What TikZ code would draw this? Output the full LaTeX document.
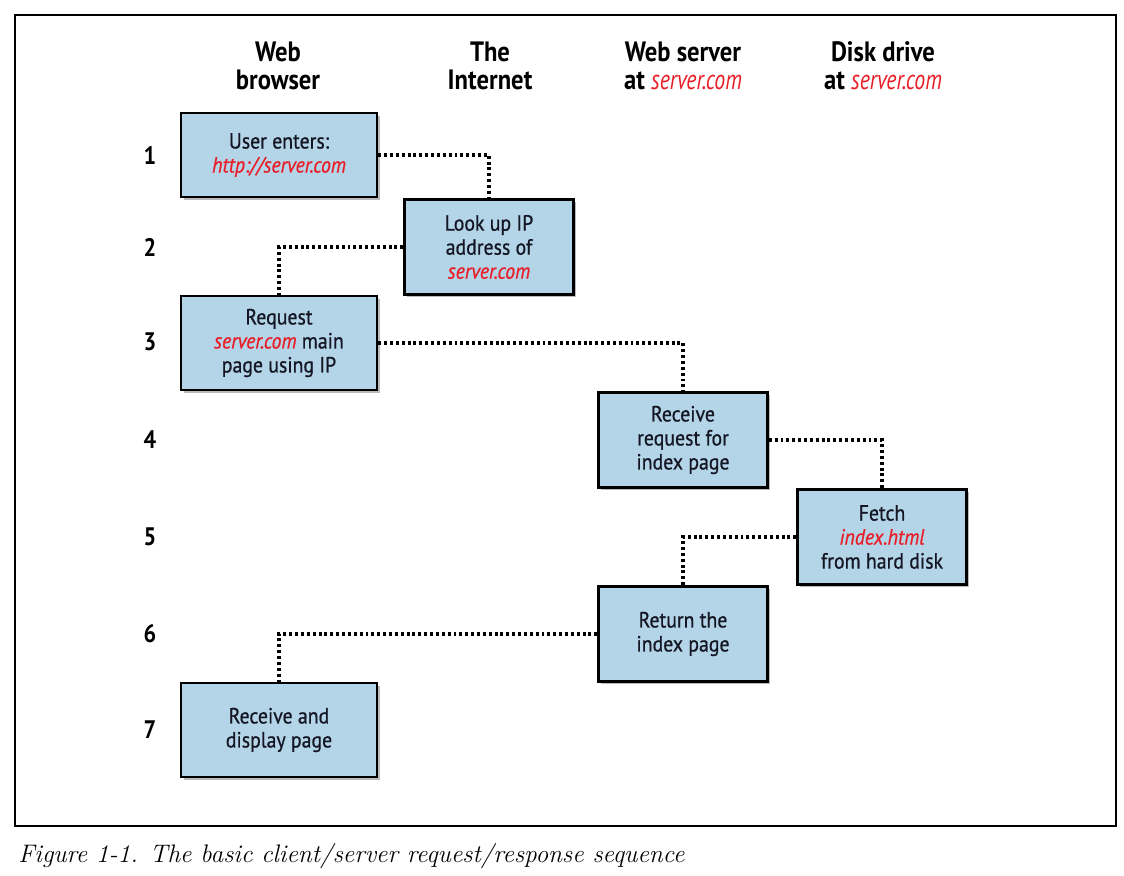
\documentclass[tikz,border=0pt]{standalone}
\usepackage{fontspec}
\setsansfont{PT Sans}[FakeStretch=0.88]
\newfontfamily\boxfont{PT Sans}[FakeStretch=0.9,FakeBold=0.7]
\newfontfamily\hredfont{PT Sans}[FakeStretch=0.78]
\usetikzlibrary{shadows}
\definecolor{boxblue}{RGB}{180,212,232}
\definecolor{urlred}{RGB}{232,30,40}
\definecolor{ink}{RGB}{20,22,35}
\newcommand\rd[1]{{\color{urlred}\itshape #1}}
\newcommand\hrd[1]{{\hredfont\mdseries\color{urlred}\itshape #1}}
\begin{document}
\begin{tikzpicture}[x=0.75pt,y=-0.75pt,
  box/.style={draw=black,line width=1.9pt,fill=boxblue,inner sep=0pt,text=ink,
    minimum width=169*0.75pt,minimum height=95*0.75pt,align=center,
    font=\boxfont\fontsize{16.5}{18}\selectfont,
    drop shadow={shadow xshift=2.2pt,shadow yshift=-2.2pt,fill=black!45,opacity=0.6}},
  wbox/.style={box,minimum width=196*0.75pt},
  link/.style={line width=2.3pt,dash pattern=on 2.2pt off 2.2pt},
  hdr/.style={align=center,font=\sffamily\bfseries\fontsize{21}{21}\selectfont},
  num/.style={font=\sffamily\bfseries\fontsize{19}{20}\selectfont}]
\useasboundingbox (0,0) rectangle (1124,875);
\draw[line width=0.8pt] (15,15) rectangle (1116,826);
% headers
\node[hdr] (h1) at (278,66) {Web\\browser};
\node[hdr] (h2) at (490,66) {The\\Internet};
\node[hdr] (h3) at (683,66) {Web server\\at \hrd{server.com}};
\node[hdr] (h4) at (883,66) {Disk drive\\at \hrd{server.com}};
% row numbers
\node[num] (n1) at (150,155) {1};
\node[num] (n2) at (150,247) {2};
\node[num] (n3) at (150,342) {3};
\node[num] (n4) at (150,440) {4};
\node[num] (n5) at (150,537) {5};
\node[num] (n6) at (150,634) {6};
\node[num] (n7) at (150,730) {7};
% boxes
\node[wbox,minimum height=84*0.75pt] (b1) at (279,155) {User enters:\\\rd{http://server.com}};
\node[box] (b2) at (489,247) {Look up IP\\address of\\\rd{server.com}};
\node[wbox,minimum height=94*0.75pt] (b3) at (279,343) {Request\\\rd{server.com} main\\page using IP};
\node[box] (b4) at (683,440) {Receive\\request for\\index page};
\node[box] (b5) at (882,537) {Fetch\\\rd{index.html}\\from hard disk};
\node[box] (b6) at (683,634) {Return the\\index page};
\node[wbox,minimum height=94*0.75pt] (b7) at (279,730) {Receive and\\display page};
% connectors
\draw[link] (b1.east) -| (b2.north);
\draw[link] (b2.west) -| (b3.north);
\draw[link] (b3.east) -| (b4.north);
\draw[link] (b4.east) -| (b5.north);
\draw[link] (b5.west) -| (b6.north);
\draw[link] (b6.west) -| (b7.north);
% caption
\node[anchor=west,inner sep=0pt,font=\itshape\fontsize{19}{21}\selectfont] (cap) at (18,856) {Figure 1-1. The basic client/server request/response sequence};
\end{tikzpicture}
\end{document}
